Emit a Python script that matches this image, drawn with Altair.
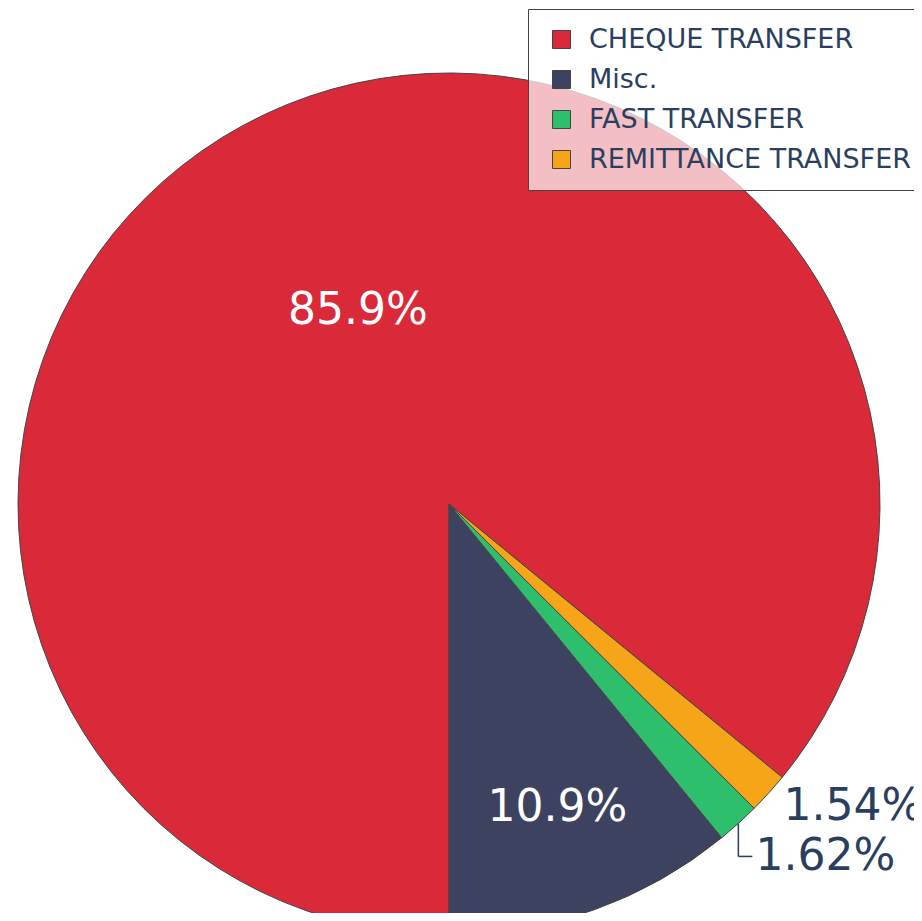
import math
import altair as alt
import pandas as pd

# ---- data ----
categories = ["CHEQUE TRANSFER", "Misc.", "FAST TRANSFER", "REMITTANCE TRANSFER"]
shares = [85.9, 10.9, 1.62, 1.54]
pct_text = ["85.9%", "10.9%", "1.62%", "1.54%"]
slice_order = [0, 3, 2, 1]          # clockwise order of slices starting at 6 o'clock
colors = ["#da2a3a", "#3d4261", "#2ebf6d", "#f6a518"]

df = pd.DataFrame({"label": categories, "value": shares, "txt": pct_text, "ord": slice_order})

CX, CY, R = 441, 496, 431
FONT = "DejaVu Sans"
TXT_DARK = "#2a3f5f"

base = (
    alt.Chart(df)
    .transform_joinaggregate(total="sum(value)")
    .transform_window(cum="sum(value)", sort=[alt.SortField("ord")])
    .transform_calculate(
        a0=f"PI + 2*PI*(datum.cum - datum.value)/datum.total",
        a1=f"PI + 2*PI*datum.cum/datum.total",
    )
    .transform_calculate(mid="(datum.a0 + datum.a1)/2")
    .transform_calculate(
        ex=f"{CX} + {R}*sin(datum.mid)",
        ey=f"{CY} - {R}*cos(datum.mid)",
    )
)

arcs = base.mark_arc(outerRadius=R, stroke="#444444", strokeWidth=1).encode(
    x=alt.value(CX),
    y=alt.value(CY),
    theta=alt.Theta("a0:Q", scale=None, stack=False),
    theta2="a1:Q",
    color=alt.Color(
        "label:N",
        scale=alt.Scale(domain=categories, range=colors),
        sort=categories,
        legend=alt.Legend(
            orient="none",
            legendX=520,
            legendY=1,
            title=None,
            fillColor="rgba(255,255,255,0.7)",
            strokeColor="#444444",
            padding=17,
            symbolType="square",
            symbolSize=324,
            symbolStrokeColor="#444444",
            symbolStrokeWidth=1,
            symbolOffset=3,
            labelFont=FONT,
            labelFontSize=27,
            labelColor=TXT_DARK,
            labelOffset=14,
            labelLimit=1000,
            rowPadding=12,
        ),
    ),
)

def txt_layer(name, radius, color, align="center", dx=0, dy=0):
    return base.transform_filter(alt.datum.label == name).mark_text(
        radius=radius, font=FONT, fontSize=44, color=color, align=align,
        baseline="middle", dx=dx, dy=dy,
    ).encode(
        x=alt.value(CX),
        y=alt.value(CY),
        theta=alt.Theta("mid:Q", scale=None, stack=False),
        text="txt:N",
    )

t_cheque = txt_layer("CHEQUE TRANSFER", 213, "white")
t_misc = txt_layer("Misc.", 323, "white")
t_rem = txt_layer("REMITTANCE TRANSFER", 451, TXT_DARK, align="left")
t_fast = txt_layer("FAST TRANSFER", 467, TXT_DARK, align="left", dx=-7, dy=7)

fast = base.transform_filter(alt.datum.label == "FAST TRANSFER").transform_calculate(
    ly="datum.ey + 33", lx2="datum.ex + 14"
)
lead_v = fast.mark_rule(color=TXT_DARK, strokeWidth=1.5).encode(
    x=alt.X("ex:Q", scale=None), y=alt.Y("ey:Q", scale=None), y2="ly:Q"
)
lead_h = fast.mark_rule(color=TXT_DARK, strokeWidth=1.5).encode(
    x=alt.X("ex:Q", scale=None), x2="lx2:Q", y=alt.Y("ly:Q", scale=None)
)

chart = (
    alt.layer(arcs, t_cheque, t_misc, t_rem, t_fast, lead_v, lead_h)
    .properties(width=906, height=905, padding=0, autosize=alt.AutoSizeParams(type="none"), background="white")
    .configure_view(stroke=None)
)

chart.save("out.html", embed_options={"renderer": "svg", "actions": False})
